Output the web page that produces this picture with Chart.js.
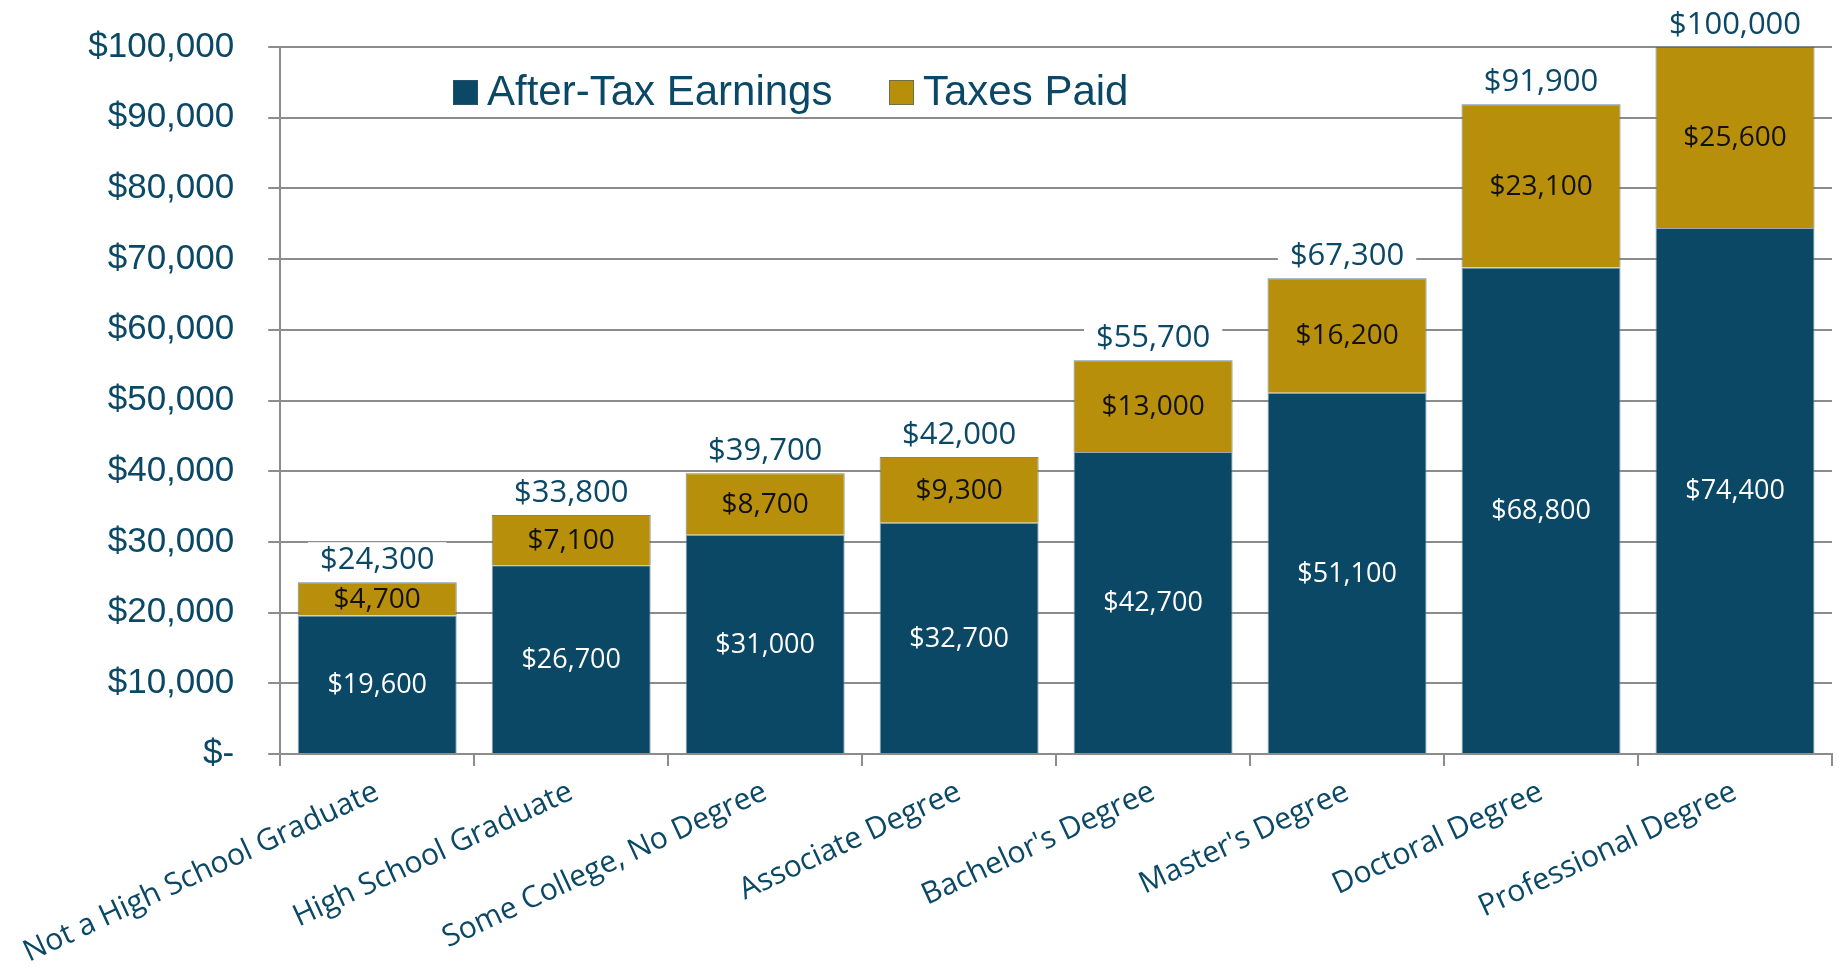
<!DOCTYPE html>
<html>
<head>
<meta charset="utf-8">
<title>Earnings and Taxes by Education</title>
<script src="https://cdn.jsdelivr.net/npm/chart.js@4.4.1/dist/chart.umd.min.js"></script>
<style>
  html, body { margin: 0; padding: 0; background: #fff; }
  #wrap { width: 1839px; height: 971px; }
</style>
</head>
<body>
<div id="wrap"><canvas id="eduChart" width="1839" height="971"></canvas></div>
<script>
// data
const categories = [
  "Not a High School Graduate", "High School Graduate", "Some College, No Degree",
  "Associate Degree", "Bachelor's Degree", "Master's Degree", "Doctoral Degree", "Professional Degree"
];
const afterTax = [19600, 26700, 31000, 32700, 42700, 51100, 68800, 74400];
const taxes = [4700, 7100, 8700, 9300, 13000, 16200, 23100, 25600];
const seriesNames = ["After-Tax Earnings", "Taxes Paid"];

const BLUE = "#0a4866";
const GOLD = "#b88f0b";
const GRID = "#8c8c8c";

function money(v) {
  if (v === 0) return "$-";
  return "$" + v.toLocaleString("en-US");
}

// value labels inside and on top of each stacked bar
const barLabels = {
  id: "barLabels",
  afterDatasetsDraw(chart) {
    const ctx = chart.ctx;
    const low = chart.getDatasetMeta(0).data;
    const high = chart.getDatasetMeta(1).data;
    ctx.save();
    ctx.textAlign = "center";
    ctx.textBaseline = "middle";
    low.forEach((bar, i) => {
      ctx.font = '27px "Open Sans"';
      ctx.fillStyle = "#ffffff";
      ctx.fillText(money(afterTax[i]), bar.x, (bar.y + bar.base) / 2 + 1);

      const top = high[i];
      ctx.font = '28px "Open Sans"';
      ctx.fillStyle = "#111111";
      ctx.fillText(money(taxes[i]), top.x, (top.y + top.base) / 2 + 1);

      // total above the bar, on a white patch that hides the gridline
      const total = money(afterTax[i] + taxes[i]);
      ctx.font = '31px "Open Sans"';
      const w = ctx.measureText(total).width;
      const y = top.y - 22;
      ctx.fillStyle = "#ffffff";
      ctx.fillRect(top.x - w / 2 - 12, y - 18, w + 24, 36);
      ctx.fillStyle = BLUE;
      ctx.fillText(total, top.x, y);
    });
    ctx.restore();
  }
};

// legend sits inside the plot, left of centre
const insideLegend = {
  id: "insideLegend",
  afterDraw(chart) {
    const ctx = chart.ctx;
    const colors = [BLUE, GOLD];
    const xs = [453, 889];
    const y = 92;
    ctx.save();
    ctx.font = '42px "Liberation Sans"';
    ctx.textBaseline = "middle";
    ctx.textAlign = "left";
    seriesNames.forEach((name, i) => {
      ctx.fillStyle = colors[i];
      ctx.fillRect(xs[i], y - 12, 25, 25);
      ctx.strokeStyle = "rgba(60,90,110,0.6)";
      ctx.lineWidth = 1;
      ctx.strokeRect(xs[i] + 0.5, y - 11.5, 24, 24);
      ctx.fillStyle = BLUE;
      ctx.fillText(name, xs[i] + 34, y + 1);
    });
    ctx.restore();
  }
};

new Chart(document.getElementById("eduChart"), {
  type: "bar",
  data: {
    labels: categories,
    datasets: [
      {
        label: seriesNames[0],
        data: afterTax,
        backgroundColor: BLUE,
        borderColor: "rgba(120,150,170,0.8)",
        borderWidth: 1,
        categoryPercentage: 1,
        barPercentage: 0.82
      },
      {
        label: seriesNames[1],
        data: taxes,
        backgroundColor: GOLD,
        borderColor: "rgba(70,110,130,0.8)",
        borderWidth: 1,
        categoryPercentage: 1,
        barPercentage: 0.82
      }
    ]
  },
  options: {
    responsive: false,
    animation: false,
    layout: { padding: { top: 47, right: 7, left: 0, bottom: 0 } },
    plugins: {
      legend: { display: false },
      tooltip: { enabled: false }
    },
    scales: {
      x: {
        stacked: true,
        grid: {
          display: true,
          drawOnChartArea: false,
          color: GRID,
          lineWidth: 2,
          tickLength: 12
        },
        border: { display: true, color: GRID, width: 2 },
        ticks: {
          color: BLUE,
          font: { family: "Open Sans", size: 30 },
          minRotation: 25,
          maxRotation: 25,
          padding: 8,
          autoSkip: false
        },
        afterFit(scale) { scale.height = 217; }
      },
      y: {
        stacked: true,
        min: 0,
        max: 100000,
        grid: { color: GRID, lineWidth: 2, tickLength: 12 },
        border: { display: true, color: GRID, width: 2 },
        ticks: {
          stepSize: 10000,
          color: BLUE,
          padding: 34,
          font: { family: "Liberation Sans", size: 35 },
          callback: (v) => money(v)
        },
        afterFit(scale) {
          scale.width = 279;
          scale.paddingTop = 0;
          scale.paddingBottom = 0;
        }
      }
    }
  },
  plugins: [barLabels, insideLegend]
});
</script>
</body>
</html>
